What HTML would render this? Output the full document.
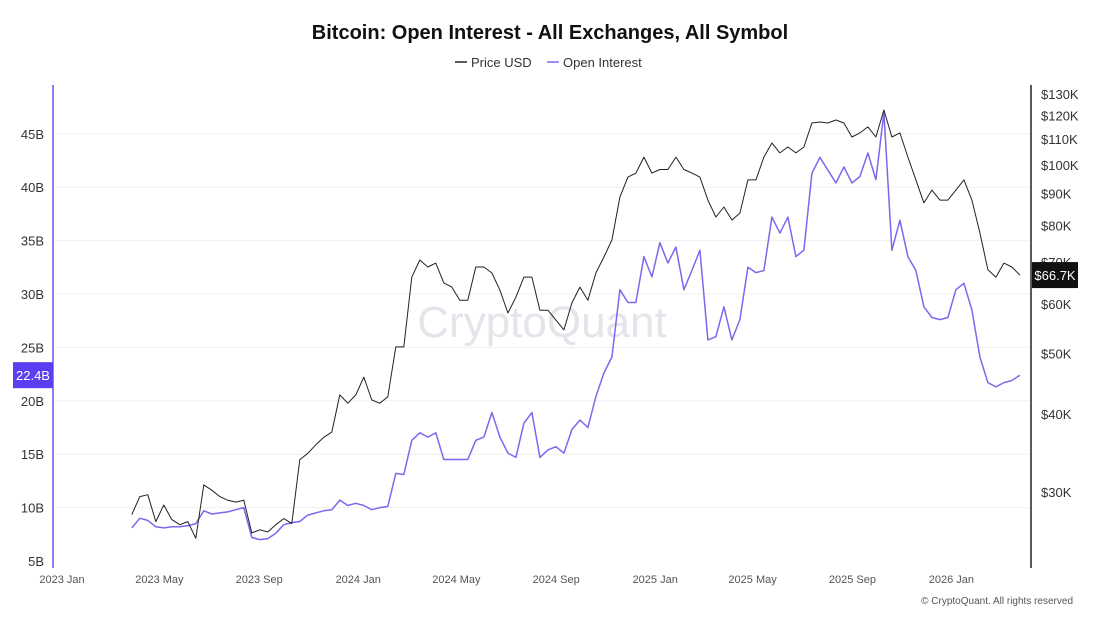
<!DOCTYPE html>
<html><head><meta charset="utf-8">
<style>
body{margin:0;background:#fff;width:1100px;height:619px;overflow:hidden;font-family:"Liberation Sans",sans-serif}
svg{display:block}
</style></head><body>
<svg id="chart" width="1100" height="619" xmlns="http://www.w3.org/2000/svg" font-family="Liberation Sans, sans-serif">
<text x="550" y="39" text-anchor="middle" font-size="20" font-weight="bold" fill="#111">Bitcoin: Open Interest - All Exchanges, All Symbol</text>
<g>
<g><line x1="455" y1="62" x2="467" y2="62" stroke="#222" stroke-width="1.5"/><text x="471" y="67" font-size="13" fill="#333">Price USD</text></g>
<g><line x1="547" y1="62" x2="559" y2="62" stroke="#7b68ee" stroke-width="1.5"/><text x="563" y="67" font-size="13" fill="#333">Open Interest</text></g>
</g>
<text x="542" y="337" text-anchor="middle" font-size="44" fill="#e4e4ea">CryptoQuant</text>
<g id="grid"></g>
<g id="axes"></g>
<g id="series"></g>
<text x="1073" y="604" text-anchor="end" font-size="10" fill="#555">© CryptoQuant. All rights reserved</text>
</svg>
<script>
const startDay = 86; // days since 2023-01-01
const stepDays = 9.86;
const priceK = [27.6,29.5,29.7,26.9,28.6,27.1,26.6,26.9,25.3,30.8,30.2,29.5,29.1,28.9,29.1,25.8,26.1,25.9,26.6,27.2,26.7,33.8,34.6,35.7,36.7,37.4,42.9,41.6,42.9,45.8,42.1,41.6,42.6,51.2,51.2,66.2,70.5,68.7,69.7,64.8,63.8,60.8,60.8,68.7,68.7,67.2,63.1,58.0,61.5,66.2,66.2,58.6,58.6,56.5,54.5,60.2,63.8,60.8,67.2,71.3,75.9,88.9,95.7,97.1,103.0,97.1,98.4,98.4,103.0,98.4,97.1,95.7,87.9,82.6,85.7,81.7,83.8,94.7,94.7,103.0,108.5,104.6,106.9,104.6,106.9,116.8,117.2,116.8,118.1,116.8,110.9,112.6,115.1,110.9,122.5,110.9,112.6,103.0,94.7,87.0,91.2,87.9,87.9,91.2,94.7,87.9,77.9,68.0,66.2,69.7,68.7,66.7];
const oiB = [8.1,9.0,8.8,8.2,8.1,8.2,8.2,8.3,8.5,9.7,9.4,9.5,9.6,9.8,10.0,7.2,7.0,7.1,7.6,8.4,8.6,8.7,9.3,9.5,9.7,9.8,10.7,10.2,10.4,10.2,9.8,10.0,10.1,13.2,13.1,16.3,17.0,16.6,17.0,14.5,14.5,14.5,14.5,16.3,16.6,18.9,16.6,15.1,14.7,17.9,18.9,14.7,15.4,15.7,15.1,17.3,18.2,17.5,20.4,22.6,24.1,30.4,29.2,29.2,33.5,31.6,34.8,32.9,34.4,30.4,32.2,34.1,25.7,26.0,28.8,25.7,27.6,32.5,32.0,32.2,37.2,35.7,37.2,33.5,34.1,41.3,42.8,41.6,40.4,41.9,40.4,41.0,43.2,40.7,47.0,34.1,36.9,33.5,32.2,28.8,27.8,27.6,27.8,30.4,31.0,28.5,24.1,21.7,21.3,21.7,21.9,22.4];
const leftTicks = [5,10,15,20,25,30,35,40,45];
const rightTicks = [30,40,50,60,70,80,90,100,110,120,130];
const xTickLabels = ["2023 Jan","2023 May","2023 Sep","2024 Jan","2024 May","2024 Sep","2025 Jan","2025 May","2025 Sep","2026 Jan"];
const xTickDays = [0,120,243,365,486,609,731,851,974,1096];

const NS="http://www.w3.org/2000/svg";
const xS = d => 62 + d*0.8115;
const yL = v => 561 - (v-5)*10.68;
const yR = v => 492 - Math.log(v/30)*271.5;
function mk(tag, attrs, parent){const e=document.createElementNS(NS,tag);for(const k in attrs)e.setAttribute(k,attrs[k]);parent.appendChild(e);return e;}
const grid=document.getElementById('grid'), axes=document.getElementById('axes'), ser=document.getElementById('series');
leftTicks.forEach(t=>{
  const y=yL(t);
  if(t>5){const g=mk('line',{x1:54,x2:1030,y1:y,y2:y,stroke:'#f0f0f0','stroke-width':1},grid);
  
  }
  const tx=mk('text',{x:44,y:y+5,'text-anchor':'end','font-size':13,fill:'#333'},axes);
  tx.textContent=t+'B';
  
  
});
rightTicks.forEach(t=>{
  const tx=mk('text',{x:1041,y:yR(t)+5,'font-size':13,fill:'#333'},axes);
  tx.textContent='$'+t+'K';
  
  
});
xTickLabels.forEach((l,i)=>{
  const tx=mk('text',{x:xS(xTickDays[i]),y:583,'text-anchor':'middle','font-size':11,fill:'#555'},axes);
  tx.textContent=l;
  
  
});
const la=mk('line',{x1:53,x2:53,y1:85,y2:568,stroke:'#6a55f0','stroke-width':1.5},axes);


const ra=mk('line',{x1:1031,x2:1031,y1:85,y2:568,stroke:'#222','stroke-width':1.5},axes);


const ptsP=priceK.map((v,i)=>xS(startDay+i*stepDays).toFixed(1)+','+yR(v).toFixed(1)).join(' ');
const ptsO=oiB.map((v,i)=>xS(startDay+i*stepDays).toFixed(1)+','+yL(v).toFixed(1)).join(' ');
const lo=mk('polyline',{points:ptsO,fill:'none',stroke:'#7b68ee','stroke-width':1.5,'stroke-linejoin':'round'},ser);


const lp=mk('polyline',{points:ptsP,fill:'none',stroke:'#222','stroke-width':1,'stroke-linejoin':'round'},ser);


// last value labels
const lastO=oiB[oiB.length-1], lastP=priceK[priceK.length-1];
const bo=mk('rect',{x:13,y:yL(lastO)-13,width:40,height:26,fill:'#5a3ff0'},axes);


const to=mk('text',{x:33,y:yL(lastO)+5,'text-anchor':'middle','font-size':13,fill:'#fff'},axes);
to.textContent=lastO+'B';


const bp=mk('rect',{x:1032,y:yR(lastP)-13,width:46,height:26,fill:'#111'},axes);


const tp=mk('text',{x:1055,y:yR(lastP)+5,'text-anchor':'middle','font-size':13,fill:'#fff'},axes);
tp.textContent='$'+lastP+'K';


</script>
</body></html>
